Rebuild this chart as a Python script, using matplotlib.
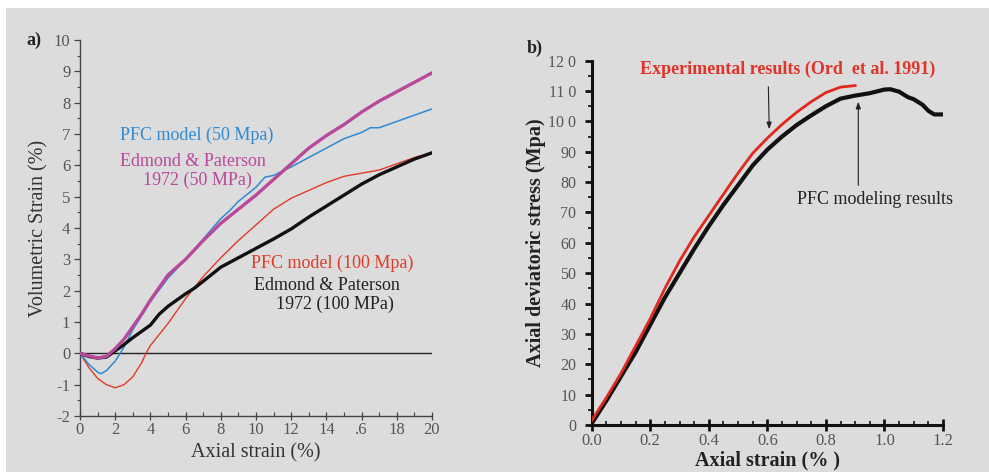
import matplotlib
matplotlib.use("Agg")
import matplotlib.pyplot as plt
from matplotlib.patches import Rectangle, FancyArrowPatch
from matplotlib.ticker import MultipleLocator

plt.rcParams['font.family'] = ['Liberation Serif', 'DejaVu Serif']
plt.rcParams['axes.unicode_minus'] = False

# ---------------- data: panel a ----------------
strain_pfc50 = [0, 0.5, 1.0, 1.2, 1.5, 2.0, 2.5, 3.0, 3.5, 4.0, 5.0, 6.0, 7.0, 8.0, 8.5, 9.0, 10.0,
                10.5, 11.0, 12.0, 13.0, 14.0, 15.0, 16.0, 16.5, 17.0, 18.0, 19.0, 20.0]
vol_pfc50 = [0, -0.35, -0.6, -0.65, -0.55, -0.25, 0.2, 0.75, 1.2, 1.65, 2.4, 3.0, 3.65, 4.3, 4.55,
             4.85, 5.3, 5.62, 5.68, 5.95, 6.25, 6.55, 6.85, 7.05, 7.2, 7.2, 7.4, 7.6, 7.8]

strain_ep50 = [0, 0.5, 1.0, 1.5, 2.0, 2.5, 3.0, 3.5, 4.0, 4.5, 5.0, 6.0, 7.0, 8.0, 9.0, 10.0,
               11.0, 12.0, 13.0, 14.0, 15.0, 16.0, 17.0, 18.0, 19.0, 20.0]
vol_ep50 = [0, -0.08, -0.15, -0.1, 0.15, 0.45, 0.85, 1.25, 1.7, 2.1, 2.5, 3.0, 3.6, 4.15, 4.6, 5.05,
            5.55, 6.05, 6.55, 6.95, 7.3, 7.7, 8.05, 8.35, 8.65, 8.95]

strain_pfc100 = [0, 0.5, 1.0, 1.5, 2.0, 2.5, 3.0, 3.5, 3.75, 4.0, 5.0, 6.0, 7.0, 8.0, 9.0, 10.0,
                 11.0, 12.0, 13.0, 14.0, 15.0, 16.0, 17.0, 18.0, 19.0, 19.3]
vol_pfc100 = [0, -0.45, -0.8, -1.0, -1.1, -1.0, -0.75, -0.3, 0, 0.25, 0.95, 1.75, 2.45, 3.05, 3.6,
              4.1, 4.6, 4.95, 5.2, 5.45, 5.65, 5.75, 5.85, 6.05, 6.25, 6.3]

strain_ep100 = [0, 0.5, 1.0, 1.5, 2.0, 2.5, 3.0, 3.5, 4.0, 4.5, 5.0, 5.5, 6.0, 6.5, 7.0, 8.0, 9.0,
                10.0, 11.0, 12.0, 13.0, 14.0, 15.0, 16.0, 17.0, 18.0, 19.0, 20.0]
vol_ep100 = [0, -0.1, -0.15, -0.12, 0.08, 0.28, 0.5, 0.7, 0.9, 1.25, 1.5, 1.7, 1.9, 2.08, 2.3, 2.75,
             3.05, 3.35, 3.65, 3.97, 4.35, 4.7, 5.05, 5.4, 5.7, 5.95, 6.2, 6.4]

a_xticks = [0, 2, 4, 6, 8, 10, 12, 14, 16, 18, 20]
a_xticklabels = ['0', '2', '4', '6', '8', '10', '12', '14', '.6', '18', '20']
a_yticks = [-2, -1, 0, 1, 2, 3, 4, 5, 6, 7, 8, 9, 10]

# ---------------- data: panel b ----------------
strain_exp = [0, 0.05, 0.1, 0.15, 0.2, 0.25, 0.3, 0.35, 0.4, 0.45, 0.5, 0.55, 0.6, 0.65, 0.7,
              0.75, 0.8, 0.85, 0.9]
stress_exp = [1.5, 9, 17, 26, 35, 45, 54, 62, 69, 76, 83, 89.5, 94.5, 99, 103, 106.5, 109.5,
              111.3, 111.8]

strain_pfc = [0, 0.05, 0.1, 0.15, 0.2, 0.25, 0.3, 0.35, 0.4, 0.45, 0.5, 0.55, 0.6, 0.65, 0.7,
              0.75, 0.8, 0.85, 0.9, 0.95, 1.0, 1.02, 1.05, 1.08, 1.1, 1.13, 1.15, 1.17, 1.2]
stress_pfc = [0.5, 8, 16, 24, 33, 42, 50, 58, 65.5, 72.5, 79, 85.5, 90.7, 95, 98.8, 102, 105,
              107.5, 108.5, 109.3, 110.5, 110.6, 109.8, 108, 107.3, 105.5, 103.5, 102.3, 102.3]

b_xticks = [0.0, 0.2, 0.4, 0.6, 0.8, 1.0, 1.2]
b_xticklabels = ['0.0', '0.2', '0.4', '0.6', '0.8', '1.0', '1.2']
b_yticks = [0, 10, 20, 30, 40, 50, 60, 70, 80, 90, 100, 110, 120]
b_yticklabels = ['0', '10', '20', '30', '40', '50', '60', '70', '80', '90', '10 0', '11 0', '12 0']

# ---------------- figure ----------------
W, H = 989, 472
fig = plt.figure(figsize=(W / 100, H / 100), dpi=100, facecolor='white')
bg = '#dcdcdc'
fig.patches.append(Rectangle((6 / W, 0), 1 - 6 / W, 1 - 8 / H, transform=fig.transFigure,
                             facecolor=bg, edgecolor='none', zorder=-10))

tick_gray = '#555555'
BLUE = '#2f8ad4'
MAG = '#b8489c'
RED = '#e23b26'


def ftext(px, py, s, **kw):
    fig.text(px / W, 1 - py / H, s, ha='center', va='center', **kw)


# ---------- panel a ----------
axa = fig.add_axes([80 / W, 1 - 416 / H, 352 / W, 376 / H])
axa.set_facecolor('none')
axa.set_xlim(0, 20)
axa.set_ylim(-2, 10)
for s in ['top', 'right']:
    axa.spines[s].set_visible(False)
for s in ['left', 'bottom']:
    axa.spines[s].set_color('#444444')
    axa.spines[s].set_linewidth(1.0)
axa.set_xticks(a_xticks)
axa.set_xticklabels(a_xticklabels)
axa.set_yticks(a_yticks)
axa.xaxis.set_minor_locator(MultipleLocator(1))
axa.yaxis.set_minor_locator(MultipleLocator(0.5))
axa.tick_params(axis='x', which='major', direction='inout', length=6, width=0.9, color='#444444',
                labelsize=12, labelcolor=tick_gray, pad=1)
axa.tick_params(axis='x', which='minor', direction='in', length=3, width=0.8, color='#444444')
axa.tick_params(axis='y', which='major', direction='out', length=4, width=0.9, color='#444444',
                labelsize=12, labelcolor=tick_gray, pad=3)
axa.tick_params(axis='y', which='minor', direction='out', length=2.5, width=0.8, color='#444444')

axa.axhline(0, color='#222222', lw=1.0, zorder=1)
axa.plot(strain_pfc100, vol_pfc100, color=RED, lw=1.0, zorder=3)
axa.plot(strain_pfc50, vol_pfc50, color=BLUE, lw=1.1, zorder=3)
axa.plot(strain_ep100, vol_ep100, color='#111111', lw=2.4, zorder=4)
axa.plot(strain_ep50, vol_ep50, color=MAG, lw=2.4, zorder=5)

axa.set_xlabel('Axial strain (%)', fontsize=14.5, color='#333333', labelpad=4)
axa.set_ylabel('Volumetric Strain (%)', fontsize=14.5, color='#333333', labelpad=4)

fs_ann = 13
ftext(196.7, 135, 'PFC model (50 Mpa)', color=BLUE, fontsize=fs_ann)
ftext(193.3, 161.7, 'Edmond & Paterson', color=MAG, fontsize=fs_ann)
ftext(197.5, 180, '1972 (50 MPa)', color=MAG, fontsize=fs_ann)
ftext(332.5, 263.3, 'PFC model (100 Mpa)', color=RED, fontsize=fs_ann)
ftext(326.7, 285, 'Edmond & Paterson', color='#222222', fontsize=fs_ann)
ftext(335, 304, '1972 (100 MPa)', color='#222222', fontsize=fs_ann)
ftext(34, 40, 'a)', color='#222222', fontsize=13, fontweight='bold')

# ---------- panel b ----------
axb = fig.add_axes([591.7 / W, 1 - 425 / H, 351.3 / W, 364.3 / H])
axb.set_facecolor('none')
axb.set_xlim(0, 1.2)
axb.set_ylim(0, 120)
for s in ['top', 'right']:
    axb.spines[s].set_visible(False)
for s in ['left', 'bottom']:
    axb.spines[s].set_color('#111111')
    axb.spines[s].set_linewidth(2.2)
axb.set_xticks(b_xticks)
axb.set_xticklabels(b_xticklabels)
axb.set_yticks(b_yticks)
axb.set_yticklabels(b_yticklabels)
axb.xaxis.set_minor_locator(MultipleLocator(0.05))
axb.yaxis.set_minor_locator(MultipleLocator(5))
axb.tick_params(axis='x', which='major', direction='inout', length=8, width=2.0, color='#111111',
                labelsize=12, labelcolor=tick_gray, pad=2)
axb.tick_params(axis='x', which='minor', direction='in', length=3, width=1.2, color='#111111')
axb.tick_params(axis='y', which='major', direction='out', length=5, width=2.0, color='#111111',
                labelsize=11.5, labelcolor=tick_gray, pad=6)
axb.tick_params(axis='y', which='minor', direction='out', length=3, width=1.2, color='#111111')

axb.plot(strain_pfc, stress_pfc, color='#111111', lw=3.0, zorder=3)
axb.plot(strain_exp, stress_exp, color='#e0281c', lw=2.0, zorder=4)

axb.set_xlabel('Axial strain (% )', fontsize=14.5, fontweight='bold', color='#222222', labelpad=1)
axb.set_ylabel('Axial deviatoric stress (Mpa)', fontsize=14.5, fontweight='bold', color='#222222',
               labelpad=2)

ftext(787.5, 69, 'Experimental results (Ord  et al. 1991)', color='#e0332a', fontsize=13,
      fontweight='bold')
ftext(875, 200, 'PFC modeling results', color='#222222', fontsize=13)
ftext(535, 48, 'b)', color='#222222', fontsize=13, fontweight='bold')

fig.add_artist(FancyArrowPatch(
    (768.3 / W, 1 - 84 / H), (769.3 / W, 1 - 132 / H), transform=fig.transFigure,
    arrowstyle='-|>,head_length=4,head_width=1.5', color='#222222', lw=0.8, mutation_scale=1))
fig.add_artist(FancyArrowPatch(
    (858.3 / W, 1 - 188 / H), (858.3 / W, 1 - 99 / H), transform=fig.transFigure,
    arrowstyle='-|>,head_length=4,head_width=1.5', color='#222222', lw=0.8, mutation_scale=1))

fig.savefig('out.png', dpi=100, facecolor='white')
